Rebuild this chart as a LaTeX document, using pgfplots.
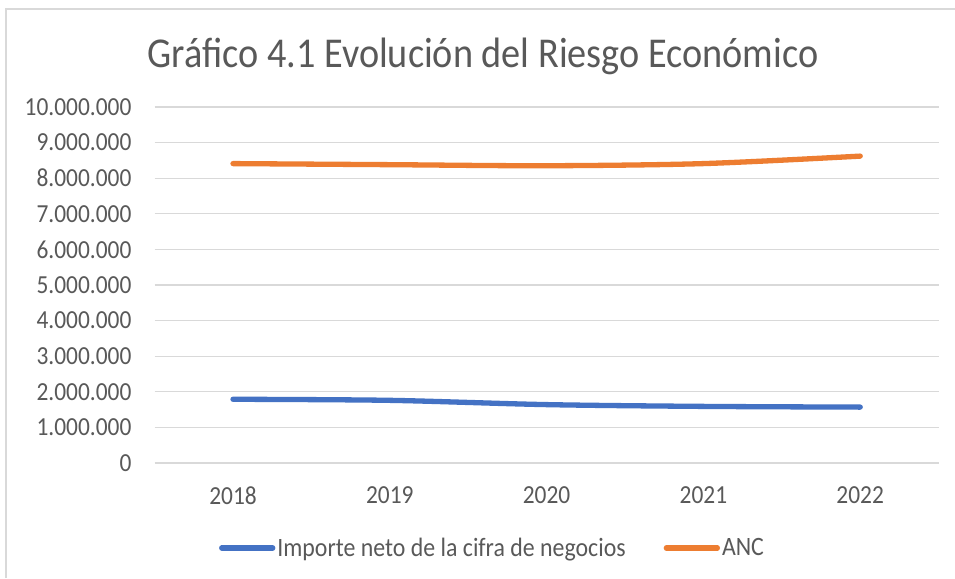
\documentclass[border=0pt]{standalone}
\usepackage{fontspec}
\setmainfont{Carlito}[FakeStretch=0.9]
\usepackage{pgfplots}
\pgfplotsset{compat=1.18}
\definecolor{cblue}{HTML}{4472C4}
\definecolor{corange}{HTML}{ED7D31}
\definecolor{ctext}{HTML}{595959}
\definecolor{cgrid}{HTML}{D9D9D9}
\begin{document}
\begin{tikzpicture}[x=1pt,y=1pt]
\useasboundingbox (0,0) rectangle (955,578);
\fill[white] (0,0) rectangle (955,578);
\draw[cgrid, line width=1.5pt] (6,0) -- (6,569) -- (955,569);
\node[anchor=base, text=ctext, font=\fontsize{42.5}{46}\selectfont, inner sep=0pt] at (483,510) {Gráfico 4.1 Evolución del Riesgo Económico};
\begin{axis}[
  at={(154.6pt,115pt)}, anchor=south west,
  scale only axis, width=784pt, height=356pt,
  xmin=-0.5, xmax=4.5, ymin=0, ymax=10000000,
  xtick={0,1,2,3,4}, xticklabels={2018,2019,2020,2021,2022},
  ytick={0,1000000,2000000,3000000,4000000,5000000,6000000,7000000,8000000,9000000,10000000},
  scaled y ticks=false,
  /pgf/number format/1000 sep={.},
  /pgf/number format/fixed,
  /pgf/number format/precision=0,
  /pgf/number format/assume math mode=true,
  ymajorgrids, grid style={cgrid, line width=1.3pt},
  axis line style={draw=none},
  major tick length=0pt,
  tick label style={text=ctext, font=\fontsize{26}{29}\selectfont, inner sep=0pt},
  yticklabel style={anchor=east, xshift=-23pt},
  xticklabel style={anchor=north, yshift=-23.5pt},
  legend columns=2,
  legend style={at={(337.9pt,-85pt)}, anchor=center, draw=none, fill=none,
    font=\fontsize{26.5}{29}\selectfont, text=ctext,
    /tikz/every even column/.append style={column sep=36pt},
    cells={anchor=west}, inner sep=0pt},
  legend image code/.code={\draw[#1] (0pt,0pt) -- (51pt,0pt);},
  every axis plot/.append style={line width=5.3pt, line cap=round, smooth, tension=0.5},
]
\addplot[cblue] coordinates {(0,1790000) (1,1760000) (2,1640000) (3,1590000) (4,1570000)};
\addlegendentry{Importe neto de la cifra de negocios}
\addplot[corange] coordinates {(0,8410000) (1,8380000) (2,8350000) (3,8410000) (4,8620000)};
\addlegendentry{ANC}
\end{axis}
\end{tikzpicture}
\end{document}
